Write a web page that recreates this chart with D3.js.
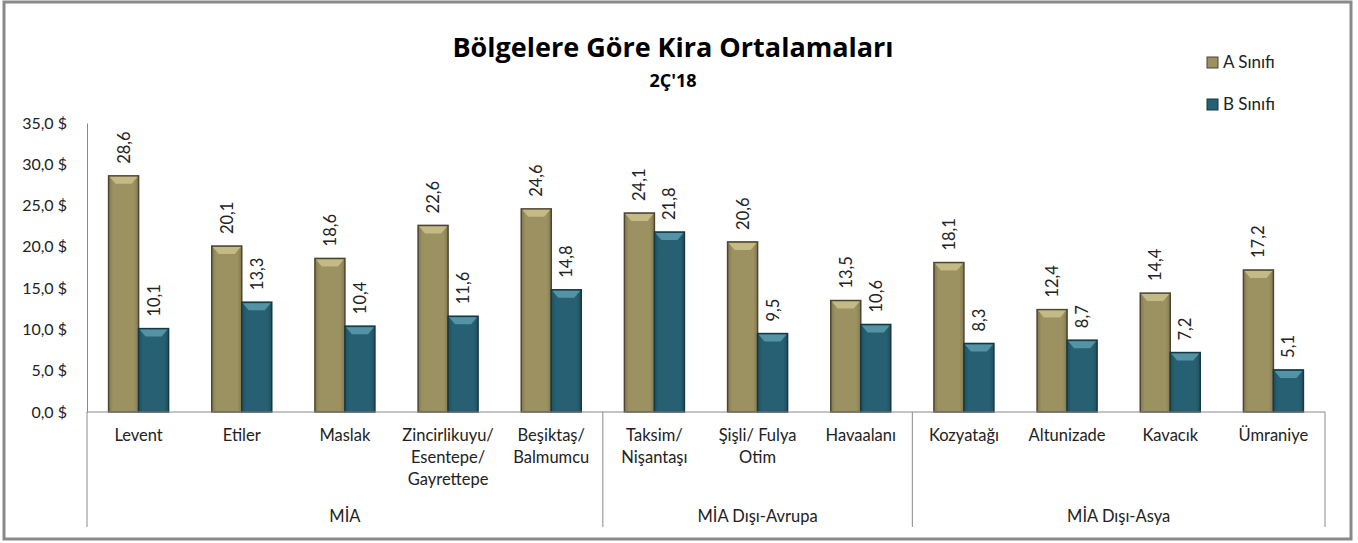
<!DOCTYPE html>
<html>
<head>
<meta charset="utf-8">
<script src="https://cdn.jsdelivr.net/npm/d3@7"></script>
<style>
  body { margin: 0; background: #fff; }
  svg text { font-family: Lato, "Noto Sans", sans-serif; fill: #222; }
</style>
</head>
<body>
<svg id="chart" width="1358" height="543"></svg>
<script>
'use strict';

// Data
let categories = [
  ['Levent'], ['Etiler'], ['Maslak'], ['Zincirlikuyu/', 'Esentepe/', 'Gayrettepe'],
  ['Beşiktaş/', 'Balmumcu'], ['Taksim/', 'Nişantaşı'], ['Şişli/ Fulya', 'Otim'],
  ['Havaalanı'], ['Kozyatağı'], ['Altunizade'], ['Kavacık'], ['Ümraniye']
];
let groups = ['MİA', 'MİA Dışı-Avrupa', 'MİA Dışı-Asya'];
let groupSizes = [5, 3, 4];
let seriesNames = ['A Sınıfı', 'B Sınıfı'];
let valuesA = [28.6, 20.1, 18.6, 22.6, 24.6, 24.1, 20.6, 13.5, 18.1, 12.4, 14.4, 17.2];
let valuesB = [10.1, 13.3, 10.4, 11.6, 14.8, 21.8, 9.5, 10.6, 8.3, 8.7, 7.2, 5.1];
let yTicks = [0, 5, 10, 15, 20, 25, 30, 35];

// Formatting
let format = {
  left: 87, right: 1325, top: 123, base: 412, catBottom: 527,
  barW: 30
};
let colors = [
  {fill: '#9c9160', light: '#c9bf8a', dark: '#4b4632'},
  {fill: '#266072', light: '#5a99ab', dark: '#163842'}
];

let svg = d3.select('#chart');
let defs = svg.append('defs');

colors.forEach((c, i) => {
  let g = defs.append('linearGradient').attr('id', `grad${i}`)
    .attr('x1', 0).attr('x2', 1).attr('y1', 0).attr('y2', 0);
  g.append('stop').attr('offset', '0%').attr('stop-color', d3.color(c.fill).darker(0.5));
  g.append('stop').attr('offset', '15%').attr('stop-color', c.fill);
  g.append('stop').attr('offset', '85%').attr('stop-color', c.fill);
  g.append('stop').attr('offset', '100%').attr('stop-color', d3.color(c.fill).darker(0.5));
});

// Frame
svg.append('rect')
  .attr('x', 4).attr('y', 2).attr('width', 1347).attr('height', 537)
  .attr('fill', 'none').attr('stroke', '#8a8a8a').attr('stroke-width', 3);

// Title
svg.append('text').attr('x', 673).attr('y', 57).attr('text-anchor', 'middle')
  .style('font-family', '"Open Sans", sans-serif')
  .style('font-size', '27px').style('font-weight', 'bold').style('fill', '#000')
  .text('Bölgelere Göre Kira Ortalamaları');
svg.append('text').attr('x', 673).attr('y', 87).attr('text-anchor', 'middle')
  .style('font-family', '"Open Sans", sans-serif')
  .style('font-size', '18px').style('font-weight', 'bold').style('fill', '#000')
  .text("2Ç'18");

// Scales
let xScale = d3.scaleBand()
  .domain(d3.range(categories.length))
  .range([format.left, format.right]);
let yScale = d3.scaleLinear()
  .domain([0, 35])
  .range([format.base, format.top]);

// Y axis
let yAxis = d3.axisLeft(yScale)
  .tickValues(yTicks)
  .tickSize(0)
  .tickPadding(20)
  .tickFormat(d => d3.format('.1f')(d).replace('.', ',') + ' $');
let yg = svg.append('g')
  .attr('transform', `translate(${format.left},0)`)
  .call(yAxis);
yg.select('.domain').attr('stroke', '#8a8a8a');
yg.selectAll('text').style('font-size', '16px').style('fill', '#222')
  .attr('font-family', 'Lato, sans-serif');

// Bars
let series = [valuesA, valuesB];
series.forEach((vals, s) => {
  let c = colors[s];
  let bars = svg.append('g').selectAll('g')
    .data(vals)
    .enter()
    .append('g');
  let bx = (i) => xScale(i) + xScale.bandwidth() / 2 - format.barW + s * format.barW;
  bars.append('rect')
    .attr('x', (d, i) => bx(i))
    .attr('y', d => yScale(d))
    .attr('width', format.barW)
    .attr('height', d => format.base - yScale(d))
    .attr('fill', `url(#grad${s})`)
    .attr('stroke', c.dark)
    .attr('stroke-width', 1.5);
  // top bevel
  bars.append('path')
    .attr('d', (d, i) => {
      let x0 = bx(i) + 1, x1 = bx(i) + format.barW - 1, y0 = yScale(d) + 1;
      return `M${x0},${y0}L${x1},${y0}L${x1 - 6},${y0 + 7}L${x0 + 6},${y0 + 7}Z`;
    })
    .attr('fill', c.light)
    .attr('opacity', 0.9);
  // value labels
  bars.append('text')
    .attr('transform', (d, i) =>
      `translate(${bx(i) + format.barW / 2 + 6},${yScale(d) - 12}) rotate(-90)`)
    .style('font-size', '16.5px')
    .text(d => d3.format('.1f')(d).replace('.', ','));
});

// Category axis lines
svg.append('line')
  .attr('x1', format.left).attr('x2', format.right)
  .attr('y1', format.base).attr('y2', format.base)
  .attr('stroke', '#8a8a8a');
let cum = 0;
let bounds = [0];
groupSizes.forEach(n => { cum += n; bounds.push(cum); });
svg.append('g').selectAll('line')
  .data(bounds)
  .enter()
  .append('line')
  .attr('x1', d => d < categories.length ? xScale(d) : format.right)
  .attr('x2', d => d < categories.length ? xScale(d) : format.right)
  .attr('y1', format.base)
  .attr('y2', format.catBottom)
  .attr('stroke', '#8a8a8a');

// Category labels
let catLabels = svg.append('g').selectAll('text')
  .data(categories)
  .enter()
  .append('text')
  .attr('text-anchor', 'middle')
  .style('font-size', '16.5px');
catLabels.each(function (lines, i) {
  let t = d3.select(this);
  lines.forEach((l, k) => {
    t.append('tspan')
      .attr('x', xScale(i) + xScale.bandwidth() / 2)
      .attr('y', 441 + k * 22)
      .text(l);
  });
});

// Group labels
svg.append('g').selectAll('text')
  .data(groups)
  .enter()
  .append('text')
  .attr('text-anchor', 'middle')
  .attr('x', (d, i) => {
    let a = xScale(bounds[i]);
    let b = bounds[i + 1] < categories.length ? xScale(bounds[i + 1]) : format.right;
    return (a + b) / 2;
  })
  .attr('y', 522)
  .style('font-size', '16.5px')
  .text(d => d);

// Legend
let legend = svg.append('g').selectAll('g')
  .data(seriesNames)
  .enter()
  .append('g')
  .attr('transform', (d, i) => `translate(1207,${57 + i * 42})`);
legend.append('rect')
  .attr('width', 11).attr('height', 11)
  .attr('fill', (d, i) => colors[i].fill)
  .attr('stroke', (d, i) => colors[i].dark);
legend.append('text')
  .attr('x', 16).attr('y', 11)
  .style('font-size', '17px')
  .text(d => d);
</script>
</body>
</html>
